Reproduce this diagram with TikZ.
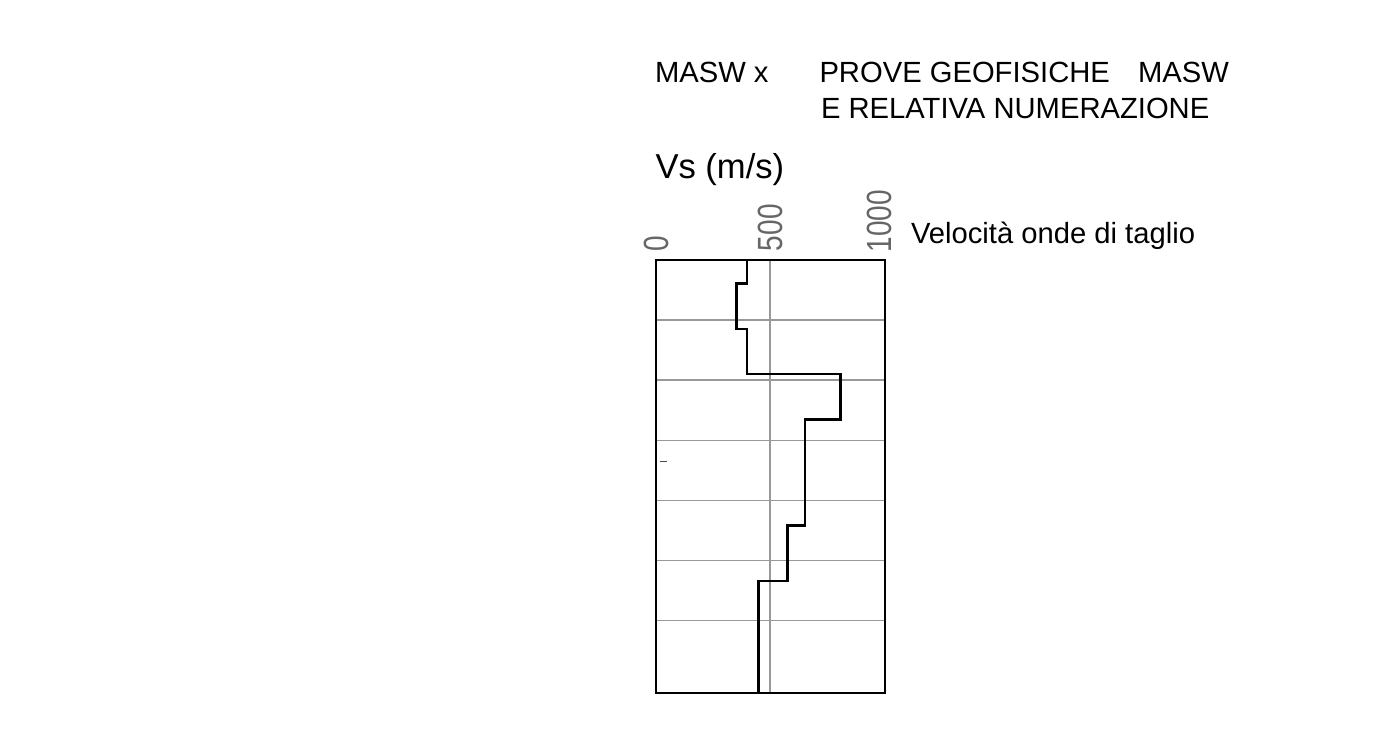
\documentclass[tikz,border=0pt]{standalone}
\usepackage{fontspec}
\setmainfont{Liberation Sans}
\tikzset{
  lbl/.style={inner sep=0pt, outer sep=0pt, anchor=base west, font=\fontsize{14.6}{17}\selectfont},
  axlbl/.style={inner sep=0pt, outer sep=0pt, anchor=base west, rotate=90, xscale=0.8, text=black!60, font=\fontsize{17.5}{20}\selectfont},
  gridln/.style={draw=black!40, line width=0.6pt},
  frame/.style={draw=black, line width=0.9pt},
  profile/.style={draw=black, line width=1.3pt, line join=miter},
}
\begin{document}
\begin{tikzpicture}[x=0.5pt, y=-0.5pt]
\path[use as bounding box] (0,0) rectangle (1394,734);
% titles
\node[lbl] (t1) at (655,82.7) {MASW x};
\node[lbl] (t2) at (819.5,82.7) {PROVE GEOFISICHE};
\node[lbl, anchor=base east] (t3) at (1229,82.7) {MASW};
\node[lbl] (t4) at (821,118.3) {E RELATIVA NUMERAZIONE};
\node[lbl, font=\fontsize{17.3}{20}\selectfont] (vs) at (655.5,178.3) {Vs (m/s)};
\node[lbl] (vel) at (911,243.3) {Velocità onde di taglio};
% axis labels
\node[axlbl] (a0) at (668.3,251) {0};
\node[axlbl] (a500) at (782,251) {500};
\node[axlbl] (a1000) at (891.5,252.5) {1000};
% grid
\coordinate (tl) at (655.7,260);
\coordinate (br) at (885,692.7);
\draw[gridln] (770,260) -- (770,692.7);
\foreach \yy in {320,380,440.5,500.3,560.3,620.3}
  \draw[gridln] (655.7,\yy) -- (885,\yy);
% profile
\draw[profile] (747,260) -- (747,283.3) -- (736.7,283.3) -- (736.7,329) -- (747,329) -- (747,374)
  -- (840.3,374) -- (840.3,419.3) -- (805,419.3) -- (805,525.3) -- (787.7,525.3) -- (787.7,581)
  -- (758.3,581) -- (758.3,692.7);
% frame
\draw[frame] (tl) rectangle (br);
% small dash
\draw[draw=black!70, line width=0.5pt] (660,461.7) -- (666.7,461.7);
\end{tikzpicture}
\end{document}
